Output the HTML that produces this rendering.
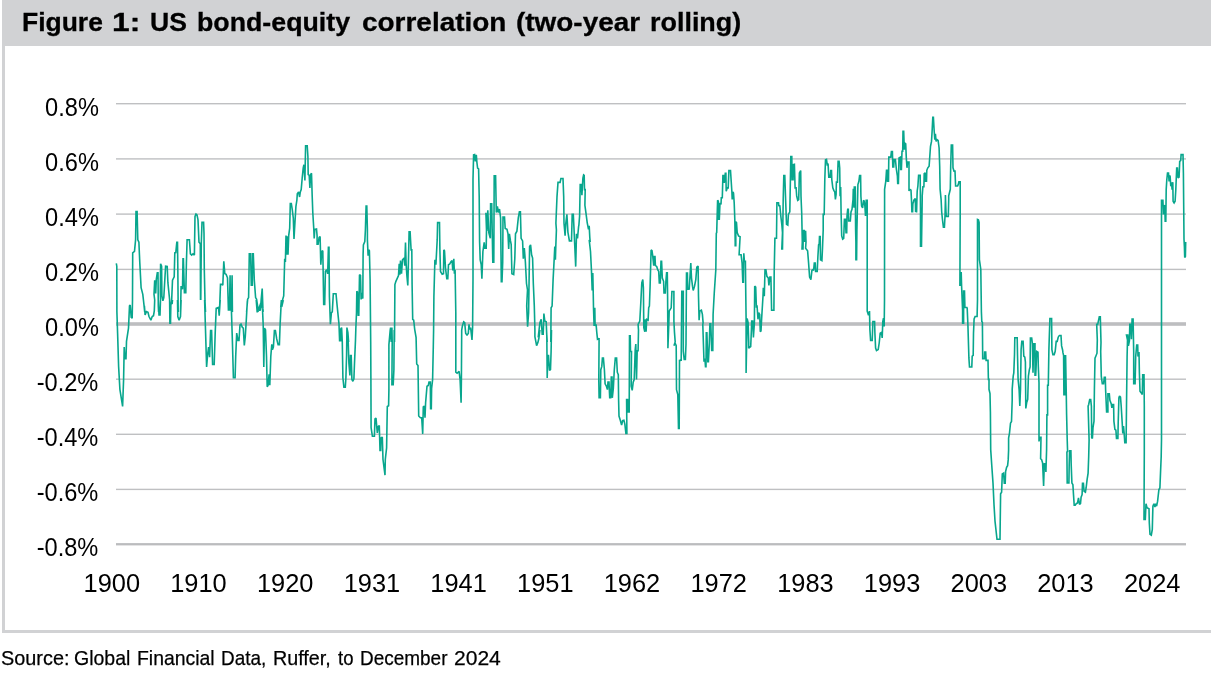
<!DOCTYPE html>
<html lang="en">
<head>
<meta charset="utf-8">
<title>Figure 1: US bond-equity correlation (two-year rolling)</title>
<style>
  html, body { margin: 0; padding: 0; background: #ffffff; }
  body { width: 1211px; height: 677px; position: relative; overflow: hidden;
         font-family: "Liberation Sans", sans-serif; color: #000; }
  .hdr { position: absolute; left: 2px; top: 0; width: 1209px; height: 45.85px; background: #d1d2d4; }
  .lbar { position: absolute; left: 2px; top: 0; width: 2.7px; height: 633.3px; background: #d1d2d4; }
  .bbar { position: absolute; left: 2px; top: 629.7px; width: 1209px; height: 3.6px; background: #d1d2d4; }
  .title { position: absolute; left: 0; top: 5.9px; margin: 0; width: 1211px; height: 32px; font-weight: bold;
           font-size: 25.6px; line-height: 32px; white-space: nowrap; -webkit-text-stroke: 0.3px #000; }
  .title span, .src span { position: absolute; top: 0; display: block; transform-origin: 0 50%; white-space: pre; }
  svg.chart { position: absolute; left: 0; top: 0; }
  .yl { position: absolute; right: 1112.2px; font-size: 25.4px; line-height: 28px; white-space: nowrap;
        transform: scaleX(0.93); transform-origin: 100% 50%; }
  .xl { position: absolute; top: 568.8px; width: 80px; text-align: center; font-size: 25.4px; line-height: 28px; white-space: nowrap; }
  .src { position: absolute; left: 0; top: 646.2px; margin: 0; width: 1211px; height: 24px; font-size: 21px; line-height: 24px; white-space: nowrap; -webkit-text-stroke: 0.25px #000; }
</style>
</head>
<body>
<div class="hdr"></div>
<div class="lbar"></div>
<div class="bbar"></div>
<h1 class="title"><span style="left:22.07px;transform:scaleX(1.0338)">Figure </span><span style="left:112.36px;transform:scaleX(1.24)">1: </span><span style="left:150.06px;transform:scaleX(1.0382)">US </span><span style="left:197.15px;transform:scaleX(1.0452)">bond-equity </span><span style="left:361.61px;transform:scaleX(1.0915)">correlation </span><span style="left:516.11px;transform:scaleX(1.0903)">(two-year </span><span style="left:649.85px;transform:scaleX(1.0518)">rolling)</span></h1>
<svg class="chart" width="1211" height="677" viewBox="0 0 1211 677">
  <rect x="116" y="103" width="1070" height="1.4" fill="#bfc0c2"/>
  <rect x="116" y="158.2" width="1070" height="1.4" fill="#bfc0c2"/>
  <rect x="116" y="213.4" width="1070" height="1.4" fill="#bfc0c2"/>
  <rect x="116" y="268.7" width="1070" height="1.4" fill="#bfc0c2"/>
  <rect x="116" y="322.2" width="1070" height="3.6" fill="#bdbec0"/>
  <rect x="116" y="378.5" width="1070" height="1.4" fill="#bfc0c2"/>
  <rect x="116" y="433.6" width="1070" height="1.4" fill="#bfc0c2"/>
  <rect x="116" y="488.7" width="1070" height="1.4" fill="#bfc0c2"/>
  <rect x="116" y="543.1" width="1070" height="2.3" fill="#bbbcbe"/>
  <path d="M116.3 263.4 L116.8 266.2 L116.9 312 L117.6 333.1 L118.6 366.2 L119.9 389.3 L122.6 406.4 L123.6 379.4 L124.2 347.1 L124.9 358.7 L126 358.7 L126.5 341.4 L128.5 328.1 L129.5 305.8 L130.2 305 L131.2 317.4 L132.2 318.2 L132.5 300 L132.7 252.9 L134.5 251.3 L135.6 239.7 L136 211.6 L137.1 211.6 L137.8 239.7 L138.9 242.2 L139.8 262.9 L141.1 287.7 L142.8 294.3 L143.9 304.2 L144.7 312 L144.4 305.8 L145.1 314.9 L146.4 311.6 L148 312.4 L149 316.5 L150.9 320.2 L152.2 316.5 L153.5 315.7 L154.3 310.8 L154.7 300 L154 294.3 L154.7 280.2 L155.7 293.5 L156.3 279.4 L157.3 272.8 L158 272.8 L158.3 305.9 L158.6 312 L158.3 300 L159 314.9 L160 314.9 L160.5 300 L160.3 292.6 L160.6 263.7 L161.6 266.2 L161.9 295.9 L162.9 300.9 L163.8 297.6 L165.6 266.2 L167.2 266.5 L167.9 282.7 L168.9 292.6 L169.9 302.6 L170.2 312 L169.6 300 L169.9 323.2 L170.5 323.2 L170.9 303.3 L172.2 303.3 L172.5 300 L171.5 304.2 L172.5 280.2 L174.2 276.9 L174.8 252.9 L175.8 252.6 L176.8 242.2 L177.5 242.2 L177.8 266.2 L178.2 312 L177.5 300 L177.8 316.5 L179.1 320.2 L180.5 316.5 L181.1 300 L180.5 312 L181.1 286 L182.5 289.3 L183 258.7 L183.4 258.7 L184.4 292.6 L185.8 292.6 L186.4 262.9 L187.1 239.7 L189.4 239.7 L190.4 253.8 L191.7 255.1 L193 253.8 L194.4 255.1 L195 216.5 L196 214.1 L197 214.9 L198 219.9 L199 242.2 L200.3 243.8 L200.5 299.3 L200.8 299.3 L201.3 243 L202 222.3 L203.6 222.3 L204 233.1 L204.3 269.5 L205 300.9 L205.5 312 L204.6 300 L205.6 333.1 L206.6 367 L207.6 354.6 L208.6 347.1 L209.6 357.1 L210.6 330.6 L211.6 330.6 L212.6 364.5 L214.2 364.5 L215.2 333.1 L216.2 308.3 L218.5 307.4 L219.2 315.7 L220.2 300 L219.5 310.8 L220.5 284.4 L221.8 284.4 L222.8 285.2 L223.8 261.2 L224.8 273.6 L226.1 274.4 L227.5 277.8 L228.4 310 L229.4 310 L230.1 275.3 L230.4 310 L231.4 310 L232.1 275.3 L232.4 312 L231.4 309.9 L232.4 341.4 L233.4 377.8 L235.1 377.8 L235.7 356.2 L236.7 333.1 L238 340.5 L239 340.5 L240 324.8 L241 324 L242.3 327.3 L243.3 328.1 L244.3 345.5 L245.3 336.4 L246.3 319.9 L247.3 301.7 L247.6 300 L246.6 312 L247.6 299.3 L248.6 297.6 L249.3 253.8 L250.6 253.8 L251.3 285.2 L252.3 285.2 L252.6 253.8 L253.3 253.8 L254.3 280.2 L255.6 297.6 L256.6 299.3 L257.6 305.9 L258.2 312 L256.2 300 L257.2 312.4 L258.6 307.4 L259.9 310.8 L261.5 306.6 L261.9 300 L258.9 308.4 L260.5 308.4 L261.2 299.3 L262.2 288.5 L262.9 308.4 L263.2 312 L262.5 309.1 L263.2 324.8 L263.8 367 L264.5 328.1 L265.5 329.8 L266.5 356.2 L267.2 386.8 L268.1 385.2 L269.1 374.4 L269.8 385.2 L270.8 356.2 L271.8 344.3 L272.4 349.6 L273.4 347.1 L274.4 330.6 L275.4 330.6 L276.7 338.9 L278.1 344.7 L279.4 344.7 L280.1 324.8 L281.1 305 L282 305.8 L283 301.3 L283.4 300 L280.7 307.5 L281.4 300.1 L282 305.9 L282.7 299.3 L283.7 295.9 L284.7 258.7 L285.4 262 L286 235.6 L286.7 254.6 L287.3 236.4 L288 254.6 L288.7 235.6 L289.7 228.1 L290.3 203.6 L291.3 203.6 L292.3 209.9 L293.3 218.2 L294 238.9 L294.9 223.2 L295.9 206.6 L296.9 200 L297.3 193.7 L298.6 192 L299.6 197 L300.3 192 L301.2 189.6 L302.2 178 L303.2 168 L303.9 164.7 L304.9 180.5 L305.6 145.7 L307.2 145.7 L307.9 156.5 L308.2 174.7 L309.2 175.5 L309.9 187.9 L310.5 174.7 L311.5 173.3 L312.2 196.2 L312.8 212.7 L313.8 229.3 L314.2 238.4 L314.8 229.3 L316.5 228.9 L317.1 235.9 L317.1 244.1 L318.1 244.1 L319.1 237.4 L320.1 236.6 L320.8 264.7 L321.8 251.5 L322.8 250.7 L323.7 304.4 L324.7 304.4 L325.4 271.4 L326.7 269.7 L327.7 273.8 L328.4 247.4 L329 247.4 L329.4 296.2 L330.4 324.3 L331.4 312.7 L332.3 311.9 L333.3 293.7 L336 293.7 L337 304.4 L338 314.4 L339 324.3 L339.6 340.8 L339.6 340.8 L340.6 340.8 L340.6 329.3 L341.6 327.6 L342.3 342 L342.3 342.4 L342.9 378 L343.9 387.1 L345.3 387.1 L345.9 378 L346.6 354.8 L346.9 330 L346.9 327.6 L347.9 332.6 L348.6 342 L347.9 332.5 L348.9 363.1 L349.9 375.5 L350.5 355.6 L351.2 355.6 L351.9 379.6 L352.9 381.3 L353.9 378.8 L354.5 363.1 L355.5 339.9 L355.8 330 L355.8 329.3 L356.5 312.7 L356.8 291.2 L357.5 292 L358.2 315.2 L358.8 315.2 L359.5 274.7 L360.5 275.5 L361.1 299.5 L362.1 292.9 L362.8 298.7 L363.1 254.8 L363.4 244.9 L364.8 241.6 L365.4 230 L366.1 206.1 L366.8 206.1 L367.4 229.3 L367.4 239.9 L368.1 255.6 L368.7 249.9 L369.4 250.7 L370.1 279.6 L370.7 342 L370.9 379.6 L371.1 427.6 L371.4 429.7 L372.4 436.3 L374.4 436.3 L375 418.9 L376 418.1 L377.3 433 L378.3 426.4 L379.3 425.6 L380 450.4 L380.7 450.4 L381 438 L382.3 437.1 L383 459.5 L385 475.2 L385.3 459.5 L386.6 447.9 L387.3 406.5 L388.6 405.7 L388.9 390 L388.9 344.9 L390.2 330 L390.6 327.6 L391.2 342 L391.9 327.6 L392.2 342 L391.9 384.6 L393.2 384.6 L393.9 369.7 L394.2 330 L394.5 342 L394.9 284.6 L395.9 281.3 L398.5 275.5 L399.2 263.9 L399.8 274.7 L400.5 260.6 L401.5 273.8 L402.5 259.8 L404.1 258.1 L404.8 265.6 L405.5 242.4 L406.1 263.1 L406.8 274.7 L407.8 285.4 L408.4 263.1 L409.1 231.7 L410.1 231.7 L411.1 249.9 L411.8 249.9 L412.1 284.6 L412.7 319.3 L413.7 320.2 L414.7 329.3 L416.1 337.5 L416.1 338.3 L416.7 363.9 L418 365.6 L418.7 416 L420.4 417.7 L421.7 417.7 L422.7 433.9 L423.3 406.9 L424.3 406.1 L425 417.7 L425.6 402.8 L427 386.2 L428.3 385.4 L429 382.1 L430.3 382.1 L430.6 408.6 L431.3 408.6 L431.6 388.7 L432.6 379.6 L433.3 346.5 L433.6 330 L433.9 296.2 L434.9 259.8 L435.9 264.7 L437.2 239.9 L437.6 222.6 L439.5 222.6 L439.9 249.9 L440.5 271.4 L442.2 274.3 L443.5 273.8 L443.8 249.9 L444.5 250.7 L445.5 268 L446.8 278.8 L447.8 278.8 L448.5 264.7 L449.8 263.9 L451.1 261.4 L452.1 260.6 L452.8 270.5 L453.8 258.9 L454.4 273.8 L455.1 269.7 L455.8 312.7 L455.8 342 L455.8 372.2 L457.1 373.3 L459.1 371.4 L460.1 379.6 L461.1 402.8 L461.4 379.6 L461.7 330 L462.4 325.9 L463.7 321.8 L464.7 322.6 L465.7 333.4 L467 335 L468.3 333.4 L469 324.3 L469.7 329.3 L470.6 327.6 L472 340 L472.6 327.6 L473 279.6 L473 230 L473 179.6 L473.6 154.8 L474.6 154.5 L475.3 161.4 L476.3 154.8 L476.9 162.3 L477.6 168 L478.6 168.9 L479.2 196.2 L479.6 242 L480.2 259.8 L481.2 264.7 L481.9 278.8 L482.9 251.5 L484.2 242.4 L484.9 248.2 L486.2 248.2 L486.5 230 L485.9 212.7 L486.9 230.9 L487.8 210.2 L488.8 232.6 L490.3 238.3 L490.6 203.7 L491.7 203.7 L492.8 262.2 L493.8 262.2 L494.2 175.7 L495.6 175.7 L496.3 212.6 L497.4 206.3 L498.4 212.6 L499.5 209 L500.6 217.9 L501.3 281.7 L502 281.7 L502.7 262.2 L503 217 L504.5 217 L505.2 228.5 L507 229.4 L508 233.8 L508.7 248.9 L509.4 233.8 L510.5 240.9 L511.2 244.5 L511.9 273.7 L513.7 274.6 L514.8 258.7 L515.5 233.8 L516.9 231.2 L518.3 217.9 L519.4 211.7 L520.4 211.7 L521.1 238.3 L522.6 240.9 L523.3 258.7 L524.3 248 L525.4 262.2 L526.5 283.5 L527.5 290 L526.7 306.1 L527.6 326.8 L528.6 312.7 L529.6 246.5 L530.6 244.9 L531.6 254.8 L532.6 258.1 L533.3 282.9 L534.3 306.1 L534.9 329.3 L534.9 336.6 L536.6 345.7 L537.9 342.4 L538.9 338.3 L539.9 330 L538.2 337.5 L539.9 322.6 L541.2 319.3 L542.2 334.2 L543.2 334.2 L543.9 313.5 L544.8 321 L546.2 321.8 L546.8 335.9 L547.2 342 L546.8 335 L547.2 378 L547.8 355.6 L548.5 355.6 L549.5 370.5 L550.5 369.7 L551.1 351.5 L551.5 330 L550.8 342 L551.1 307.8 L552.1 306.1 L553.1 279.6 L554.1 260.6 L554.8 246.5 L555.4 259.8 L555.8 246.5 L556.4 230 L555.9 223.2 L557 196.6 L558 182.4 L560.1 182.4 L560.9 178.5 L563 178.5 L563.7 196.6 L564 223.2 L565.1 235.6 L565.8 223.2 L566.9 214.3 L567.9 232.1 L569.4 240.9 L571.5 240.9 L572.2 214.3 L573.3 214.3 L574 228.5 L574.7 244.5 L575.7 266.6 L576.5 233.8 L577.5 238.3 L578.6 226.7 L578.9 225.1 L579.6 216 L580.2 184.6 L581.2 184.6 L581.9 195.3 L582.9 178 L583.6 175 L584.2 175.5 L584.5 189.6 L585.2 189.6 L584.9 205.3 L585.9 212.7 L587.2 222.6 L588.5 229.3 L589.2 225.9 L589.8 237.5 L590.2 242 L589.2 239.9 L590.5 251.5 L591.5 271.4 L592.2 290.4 L592.8 273 L593.2 291.2 L593.5 307.8 L594.1 325.9 L594.8 307.8 L595.1 325.9 L596.1 324.3 L596.8 332.6 L597.5 339.2 L599.1 338.4 L599.1 337.9 L598.8 380.5 L599.1 397.8 L600.4 397.8 L600.8 369.7 L601.8 366.4 L602.4 358.1 L603.4 358.1 L604.4 369.7 L605.1 383.8 L606.4 386.2 L607.4 389.6 L608 382.1 L609 382.1 L609.7 397.8 L610.7 397.8 L611.3 377.1 L612 377.1 L612.3 397.8 L613.3 388.7 L614.3 369.7 L615.3 358.1 L616.6 358.1 L617.3 372.2 L618.3 374.7 L618.6 399.5 L619 416 L620.3 420.2 L621.6 425.1 L622.6 420.7 L623.9 420.2 L624.9 424.3 L625.9 433.4 L626.9 433.4 L626.6 399.5 L627.6 399.5 L628.2 411.9 L629.2 411.9 L629.5 335.8 L630.2 335.8 L630.5 351.5 L631.5 351.5 L631.2 386.2 L632.2 390.4 L633.2 382.1 L634.2 379.6 L635.2 349.9 L635.8 344.1 L636.5 379.6 L637.2 350.7 L638.1 350.7 L638.5 330 L638.1 324.3 L639.8 321 L640.8 302.8 L641.8 282.9 L642.8 279.6 L643.4 287.9 L643.8 327.6 L644.8 331.7 L645.4 319.3 L646.1 331.7 L646.7 319.3 L648.1 320.2 L648.7 307.8 L649.4 306.1 L650.1 286.2 L651.1 249.9 L652 250.7 L652.7 255.6 L653.7 265.6 L654.4 256.5 L655 256.5 L655.4 265.6 L656.7 266.4 L657.7 269.7 L658.7 271.4 L659.3 282.9 L660.3 282.9 L661 261.4 L661.6 261.4 L662.3 278 L663.6 281.3 L664 292.9 L665.3 292.9 L665.9 281.3 L666.6 272.7 L667.3 272.7 L667.6 296.2 L667.9 342 L667.9 348.2 L668.6 330 L669.2 311.1 L671.2 307.8 L671.9 291.5 L673.9 291.5 L673.9 321 L674.5 332.6 L675.2 342 L673.9 345.7 L675.2 343.2 L676.2 345.7 L676.5 389.6 L677.8 394.5 L678.5 428.4 L679.2 428.4 L679.5 360.6 L680 360.6 L680.3 360.1 L681.2 360.1 L681.8 291.4 L683.3 291.4 L683.3 351.2 L684.2 359.4 L685.4 359.4 L686 343.9 L686.5 273 L687.4 273 L687.7 289.2 L689.2 289.2 L689.2 289.6 L689.9 278 L690.8 263.1 L691.5 278 L692.5 286.2 L693.2 290.4 L694.5 286.2 L695.8 279.6 L696.8 267.2 L698.1 266.1 L698.5 296.2 L699.1 320.2 L699.8 311.1 L701.4 310.2 L702.4 314.4 L703.1 322.6 L702.8 324.7 L704 361.6 L704.9 358.6 L705.5 366.8 L706 366.8 L706.3 332.8 L706.9 332.8 L707.8 361.6 L708.4 361.6 L709.3 343.9 L709.9 323.9 L710.8 323.9 L711.7 350.5 L712.8 350.5 L713.1 314.3 L714.3 292.2 L715.8 270 L716.3 233.3 L716.7 232.6 L717.6 200.3 L718.3 201.1 L718.6 219.3 L719.3 219.3 L720 202.8 L721 204.4 L721.3 197.8 L722.3 197.8 L722.9 175.5 L723.6 175.5 L724.3 182.9 L725.3 173.3 L725.9 173.3 L726.2 191.2 L727.2 187.9 L728.2 187.9 L728.9 170.5 L730.5 170.5 L731.2 181.3 L731.9 192 L732.2 199.5 L732.9 192 L733.5 192.9 L734.2 202.8 L734.8 219.3 L735.2 242 L735.2 245.7 L735.8 245.7 L735.8 221.8 L736.5 222.6 L737.2 232.6 L738.5 235.9 L740.1 236.7 L739.1 254.8 L741.1 254.8 L742.1 263.1 L742.8 282.1 L743.4 282.1 L743.8 253.2 L744.4 261.4 L745.4 261.4 L745.8 296.2 L746.1 319.3 L746.1 373 L747.1 318.5 L748.1 322.6 L748.7 342 L748.7 348.2 L750.7 346.5 L751.4 330 L751.7 321 L752.7 321 L753.4 335.9 L753.4 337.4 L754.4 322.6 L754.7 286.2 L755.7 287.1 L756.4 307.8 L757 305.3 L758 319.3 L758.7 312.7 L759.7 314.4 L760.3 331.7 L761 330.9 L761.6 319.3 L763 296.2 L763.3 287.9 L764.3 296.2 L765 269.7 L765.9 269.7 L766.9 276.3 L768.3 278 L768.9 285.4 L769.9 277.1 L770.9 277.1 L771.6 310.2 L773.9 310.2 L774.2 271.4 L774.9 238.3 L776.5 238.3 L776.9 202.8 L778.5 202.8 L778.9 206.1 L779.8 205.3 L780.8 216 L781.8 224.3 L782.5 232.6 L781.8 249 L782.5 249 L783.2 199.5 L783.8 175.5 L784.8 175.5 L785.5 196.2 L786.5 224.3 L787.8 225.1 L788.4 214.4 L789.8 211.9 L790.4 179.6 L790.8 156.5 L791.8 156.5 L792.1 179.6 L793.1 179.6 L793.4 164.7 L794.4 164.4 L795.1 187.9 L796.1 187.9 L796.7 196.2 L797.7 200.3 L798.7 199.5 L799.4 173 L800.7 170.5 L801 196.2 L801.7 212.7 L802.3 242 L802 249 L803 249 L803.3 230.9 L804.3 230.1 L804.7 242 L805.6 230.9 L806 242 L805.6 248.2 L807.6 250.7 L808.6 263.1 L809.6 277.1 L810.9 279.6 L811.9 270.5 L812.9 269.7 L813.6 270.5 L814.3 263.1 L815.2 263.1 L815.6 271.4 L817.2 271.4 L817.9 256.5 L818.6 244.9 L819.2 244.1 L819.5 236.6 L820.2 236.6 L820.5 259.8 L821.9 260.6 L822.5 248.2 L823.2 230 L823.2 214.4 L824.2 214.4 L824.8 179.6 L825.5 159.8 L826.5 159.4 L827.2 164.7 L828.1 164.4 L828.8 177.1 L830.1 177.1 L830.8 170.5 L831.5 170.5 L831.8 179.6 L832.8 187.9 L833.8 190.4 L834.8 192 L835.4 199.5 L836.1 194.5 L836.4 182.1 L837.4 182.1 L838.1 161.4 L839.1 161.4 L839.7 168 L840.1 196.2 L840.7 187.1 L841.1 212.7 L841.7 235.9 L842.7 239.2 L843.7 238.4 L844.4 219.3 L845.4 219.3 L846 232.6 L846.7 232.6 L847 216 L847.7 209.4 L848.3 209.4 L848.7 221 L850.3 221 L851 211.9 L852 209.4 L853 199.5 L853.3 188.7 L854 207.8 L854.3 187.1 L855.3 187.1 L855.6 229.3 L855.9 242 L855.9 259.8 L856.6 259.8 L856.9 230 L857.3 212.7 L857.9 184.6 L858.9 181.3 L859.6 175.5 L860.6 175.5 L860.9 196.2 L861.6 206.1 L862.6 207.8 L863.5 200.3 L864.2 201.1 L864.9 206.1 L865.5 216 L866.2 200.3 L867.2 200.3 L867.2 242 L867.2 311.1 L868.5 315.2 L869.5 311.1 L869.9 329.8 L870.6 340.5 L872.2 340.5 L872.9 321.5 L874.6 321.5 L874.9 333.1 L875.6 348 L876.5 350.5 L878.2 349.6 L879.2 343 L880.2 333.1 L881.5 332.3 L882.2 338 L882.8 321.5 L883.5 318.2 L884.2 326.5 L884.5 300 L884.6 189.3 L885.8 181.1 L886.5 170.3 L887.1 170.3 L887.5 181.1 L888.5 181.1 L888.8 157.1 L890.8 157.1 L891.4 151.6 L892.4 151.6 L892.8 167 L893.7 167 L894.1 159.6 L895.4 159.6 L896.4 169.5 L897.4 176.1 L897.7 183.5 L898.4 183.5 L899 157.9 L900.4 157.1 L900.7 169.5 L901.4 169.5 L902 151.3 L902.7 151.3 L903 131.4 L903.7 131.4 L904.3 149.6 L905 143 L905.7 143.8 L906.3 157.9 L907 167.8 L907.6 162 L909 162 L909 191 L909.6 189.3 L911 190.2 L911.6 202.6 L911.9 212 L911.6 211.6 L912.6 211.6 L912.9 203.3 L913.3 202.6 L913.9 200.1 L915.3 198.4 L915.6 212 L915.6 211.6 L916.6 211.6 L916.9 200 L917.2 191 L917.9 186 L918.6 175.3 L920.2 175.3 L920.5 212 L920.5 246.3 L921.5 246.3 L922.2 200 L922.2 195.9 L922.9 186.8 L923.9 186.8 L924.2 173.6 L925.2 172.8 L925.5 181.1 L926.5 181.1 L926.8 170.3 L927.8 167.8 L929.1 166.2 L929.8 156.2 L930.5 146.3 L931.5 141.4 L932.1 131.4 L932.8 117.4 L933.4 117.4 L934.1 129.8 L934.8 139.7 L935.4 133.9 L936.1 141.4 L937.1 139.7 L938.1 140.5 L939.1 148 L939.7 166.2 L940.1 189.3 L941.1 199.3 L941.7 212 L942.4 219 L943.4 227.3 L944.4 227.3 L945 216.5 L945.4 200 L945.4 195.1 L946 212 L946.4 216.5 L948.3 216.5 L948.7 200 L948.7 195.9 L949.7 191.8 L950.3 189.3 L950.7 166.2 L951.3 145 L952.6 145 L953 167.8 L954 171.1 L955 171.1 L955.6 186 L957.6 186 L958.3 184.4 L958.9 181.9 L960.2 181.9 L960.2 212 L959.9 285.2 L960.9 285.2 L961.2 272 L961.6 286 L962.6 310.8 L962.6 323.2 L963.6 323.2 L963.6 291 L964.5 291 L964.9 307.5 L966.9 307.5 L967.2 308.3 L967.9 324.8 L968.9 357.9 L969.5 367 L971.8 367 L972.2 356.2 L973.2 355.4 L973.5 333.1 L974.1 319 L975.1 316.5 L977.1 316.5 L977.5 300 L977.5 219.5 L978.4 219.9 L979.1 222.3 L979.4 259.6 L980.8 269.5 L981.4 312 L981.8 321.5 L982.4 322.3 L982.7 358.7 L984.4 358.7 L984.7 352.1 L985.7 352.1 L986.1 360.4 L988 360.4 L988.4 379.4 L989 379.4 L989 389.3 L990 393.5 L990.4 412 L990.7 449.6 L991.7 464.5 L993 483.1 L994 504.6 L995 521.1 L997 539.3 L1000 539.3 L1000.3 516.2 L1000.6 493.8 L1001.6 492.2 L1002.3 474 L1003.6 473.2 L1004.3 483.1 L1005.2 483.1 L1005.6 471.5 L1006.6 467.4 L1007.6 465.7 L1008.2 459.9 L1008.6 450 L1008.6 438 L1009.5 433.1 L1010.5 423.2 L1011.5 421.5 L1012.2 400 L1012.2 389.3 L1013.2 376.1 L1013.8 372.8 L1014.5 354.6 L1014.8 337.7 L1017.2 337.7 L1017.5 354.6 L1018.1 379.4 L1019.1 389.3 L1019.8 405.9 L1020.5 389.3 L1021.1 349.6 L1021.8 341.4 L1023.1 341.4 L1023.8 356.2 L1024.8 357.1 L1025.4 362 L1025.8 408.4 L1026.7 402.6 L1027.7 399.3 L1028.4 376.1 L1029.4 369.5 L1030.1 367 L1030.4 338 L1031.7 338 L1032.4 343.8 L1033 372.8 L1033.7 343.8 L1035 343.8 L1035 375.3 L1035.7 375.3 L1036 369.5 L1036.7 351.3 L1038 352.1 L1038.3 366.2 L1039 382.7 L1039 412 L1039 441.4 L1039.7 437.2 L1041 437.2 L1040.6 458.7 L1041.6 459.6 L1042.6 462.9 L1043.6 486 L1044.3 463.7 L1045.3 463.7 L1045.9 472 L1046.6 449.6 L1046.9 414.9 L1047.6 414.9 L1047.6 385.2 L1048.3 385.2 L1048.9 349.6 L1049.9 318.5 L1051.6 318.5 L1051.9 349.6 L1052.9 354.6 L1054.2 354.6 L1055.2 351.3 L1056.2 341.4 L1057.2 341.4 L1058.2 337.2 L1059.2 335.6 L1059.1 335.5 L1061 335.5 L1061.6 345.9 L1062.6 350 L1062.9 352.4 L1063.6 355.7 L1063.9 394.6 L1064.9 394.6 L1064.9 355.7 L1065.6 355.7 L1066.2 389.6 L1066.6 414.4 L1067.2 439.3 L1067.6 452 L1066.9 451.6 L1067.2 483 L1068.9 483 L1069.2 464.8 L1069.6 450.8 L1070.9 450.8 L1071.2 464.8 L1071.9 483 L1072.9 484.7 L1073.5 494.6 L1074.2 505.3 L1075.2 505.3 L1076.2 503.7 L1077.5 502.9 L1078.5 497.9 L1079.5 504.5 L1080.5 503.7 L1081.1 497.1 L1082.1 494.6 L1082.5 483.3 L1083.4 483.3 L1084.1 491.3 L1085.4 492.1 L1086.1 488 L1087.1 479.7 L1088.1 473.1 L1088.7 456.5 L1089.1 440 L1088.1 406.2 L1088.7 404.5 L1089.7 399.6 L1090.7 399.6 L1091.4 406.2 L1091.7 437.6 L1092.4 438.4 L1093 427.7 L1094 421.1 L1094.4 389.6 L1095 358.2 L1096 355.7 L1097 353.2 L1097.3 340 L1096.7 324.4 L1097.7 324.4 L1099.3 316.9 L1100.3 316.9 L1101 342.6 L1100.7 351.6 L1101.3 376.4 L1102.3 383.8 L1103.6 383.8 L1104.3 377.2 L1105.3 377.2 L1105.6 389.6 L1106.6 412 L1107.9 412 L1107.9 393.8 L1109.3 393.8 L1109.9 400.4 L1111.2 403.7 L1111.9 407.8 L1112.6 404.5 L1113.6 404.5 L1113.9 421.1 L1114.9 429.3 L1115.9 430.2 L1116.5 438.4 L1117.9 438.4 L1118.2 422.7 L1118.9 397.9 L1119.5 395.9 L1120.5 397.1 L1121.2 406.2 L1122.2 422.7 L1122.8 433.5 L1123.5 426 L1124.1 432.6 L1124.8 442.6 L1126.1 442.6 L1126.5 406.2 L1127.1 356.5 L1127.5 340 L1126.5 335.1 L1127.8 335.1 L1128.4 345.9 L1129.4 340.9 L1129.8 324.4 L1130.8 324.4 L1131.4 339.3 L1132.1 319.1 L1133.1 319.1 L1133.4 335.9 L1133.7 352 L1133.7 383.8 L1135.1 383.8 L1135.7 356.5 L1136.7 345 L1137.7 345 L1138 356.5 L1139 351.9 L1139.4 373.1 L1140 391.3 L1141.3 392.9 L1142.3 394.6 L1142.7 374.7 L1144 374.7 L1144.3 406.2 L1144.3 452 L1144 519.4 L1145.3 519.4 L1146 503.7 L1147 507.8 L1149 508.7 L1149.3 522.7 L1150 534.3 L1151.3 535.1 L1152.3 529.3 L1152.9 506.2 L1153.9 503.7 L1154.9 507 L1155.6 503.7 L1156.6 506.2 L1157.6 501.2 L1158.9 489.6 L1159.9 488 L1160.5 473.1 L1161.2 456.5 L1161.5 440 L1161.5 200.4 L1162.9 200.4 L1163.5 214.4 L1164.2 205.3 L1164.8 206.2 L1165.2 221.1 L1165.8 221.1 L1166.2 189.6 L1166.8 179.7 L1167.5 173.1 L1168.5 173.1 L1169.1 181.4 L1169.5 175.6 L1170.1 176.4 L1170.8 186.3 L1171.5 182.2 L1172.1 189.6 L1172.8 182.2 L1173.1 201.2 L1174.1 202.9 L1175.1 201.2 L1175.8 189.6 L1176.7 168.1 L1177.4 168.1 L1178.1 178 L1179.1 177.2 L1179.7 161.5 L1180.7 160.7 L1181.1 154.6 L1183 154.6 L1183.4 173.1 L1183.7 206.2 L1184 239.3 L1184.4 246.6 L1184.7 257.4 L1185.4 256.5 L1185.7 242 L1185.7 242.6 L1186 242.6" fill="none" stroke="#08a68d" stroke-width="1.6" stroke-linejoin="miter" stroke-miterlimit="2" stroke-linecap="butt"/>
</svg>
<div class="yl" style="top:92.7px">0.8%</div>
<div class="yl" style="top:147.9px">0.6%</div>
<div class="yl" style="top:203.1px">0.4%</div>
<div class="yl" style="top:258.4px">0.2%</div>
<div class="yl" style="top:313px">0.0%</div>
<div class="yl" style="top:368.2px">-0.2%</div>
<div class="yl" style="top:423.3px">-0.4%</div>
<div class="yl" style="top:478.4px">-0.6%</div>
<div class="yl" style="top:533.4px">-0.8%</div>
<div class="xl" style="left:71.8px">1900</div>
<div class="xl" style="left:158.5px">1910</div>
<div class="xl" style="left:245.2px">1920</div>
<div class="xl" style="left:331.9px">1931</div>
<div class="xl" style="left:418.6px">1941</div>
<div class="xl" style="left:505.3px">1951</div>
<div class="xl" style="left:592px">1962</div>
<div class="xl" style="left:678.7px">1972</div>
<div class="xl" style="left:765.4px">1983</div>
<div class="xl" style="left:852.1px">1993</div>
<div class="xl" style="left:938.8px">2003</div>
<div class="xl" style="left:1025.5px">2013</div>
<div class="xl" style="left:1112.2px">2024</div>
<p class="src"><span style="left:1.15px;transform:scaleX(0.9457)">Source: </span><span style="left:74.17px;transform:scaleX(0.9288)">Global </span><span style="left:136.88px;transform:scaleX(0.9244)">Financial </span><span style="left:221.3px;transform:scaleX(0.9021)">Data, </span><span style="left:273.06px;transform:scaleX(0.939)">Ruffer, </span><span style="left:337.6px;transform:scaleX(0.8824)">to </span><span style="left:360.3px;transform:scaleX(0.9031)">December </span><span style="left:454px;transform:scaleX(1.0022)">2024</span></p>
</body>
</html>
